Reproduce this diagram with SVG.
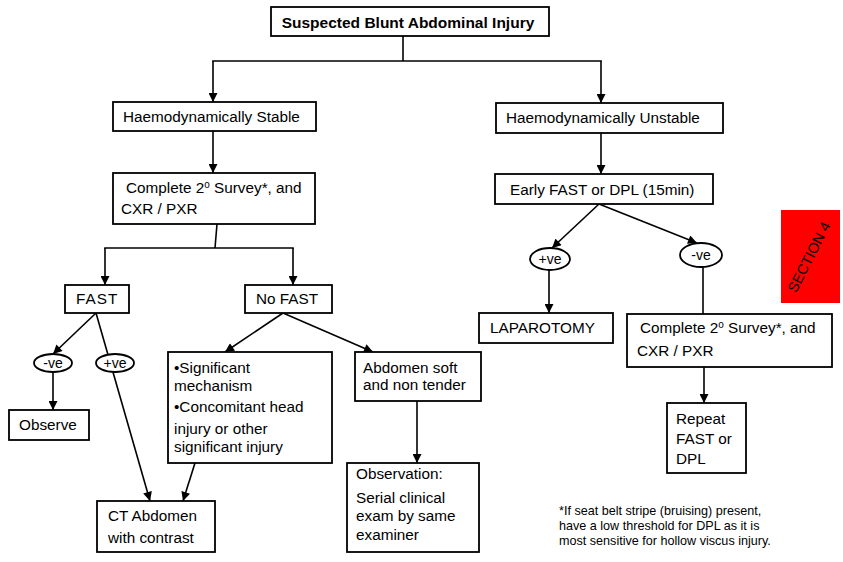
<svg xmlns="http://www.w3.org/2000/svg" width="843" height="562" viewBox="0 0 843 562">
<style>
.box{fill:#fff;stroke:#000;stroke-width:1.8}
.ell{fill:#fff;stroke:#000;stroke-width:1.8}
.ln{fill:none;stroke:#000;stroke-width:1.6}
.arr{fill:none;stroke:#000;stroke-width:1.6;marker-end:url(#ah)}
text{font-family:"Liberation Sans",Arial,sans-serif;font-size:15.3px;fill:#000}
.b{font-weight:bold;font-size:15.5px}
.e{font-size:14px}
.fn{font-size:12.6px}
.sec{font-size:14.5px}
</style>
<defs>
<marker id="ah" viewBox="0 0 10 10" markerUnits="userSpaceOnUse" markerWidth="10" markerHeight="9" refX="10" refY="5" orient="auto">
<path d="M0,0 L10,5 L0,10 z" fill="#000"/>
</marker>
</defs>
<g id="connectors">
<line class="ln" x1="403" y1="36" x2="403" y2="61"/>
<line class="ln" x1="212.2" y1="61" x2="601.8" y2="61"/>
<line class="arr" x1="213" y1="61" x2="213" y2="102"/>
<line class="arr" x1="601" y1="61" x2="601" y2="103"/>
<line class="arr" x1="213" y1="131" x2="213" y2="173"/>
<line class="ln" x1="217" y1="224" x2="215" y2="248"/>
<line class="ln" x1="104.2" y1="248" x2="293.8" y2="248"/>
<line class="arr" x1="105" y1="248" x2="105" y2="285"/>
<line class="arr" x1="293" y1="248" x2="293" y2="285"/>
<line class="arr" x1="96" y1="313" x2="53" y2="354"/>
<line class="arr" x1="96" y1="313" x2="150" y2="501"/>
<line class="arr" x1="53" y1="372" x2="53" y2="410"/>
<line class="arr" x1="283" y1="313" x2="225" y2="352"/>
<line class="arr" x1="283" y1="313" x2="373" y2="352"/>
<line class="arr" x1="195" y1="463" x2="183" y2="501"/>
<line class="arr" x1="417" y1="401" x2="417" y2="463"/>
<line class="arr" x1="601" y1="133" x2="601" y2="174"/>
<line class="arr" x1="599" y1="204" x2="552" y2="248"/>
<line class="arr" x1="599" y1="204" x2="697" y2="243"/>
<line class="arr" x1="549" y1="270" x2="549" y2="313"/>
<line class="ln" x1="703" y1="267" x2="703" y2="314"/>
<line class="arr" x1="704" y1="367" x2="704" y2="403"/>
</g>
<g id="n-top">
<rect class="box" x="271" y="7" width="278" height="29"/>
<text class="b" x="408" y="28" text-anchor="middle">Suspected Blunt Abdominal Injury</text>
</g>
<g id="n-stable">
<rect class="box" x="113" y="102" width="203" height="29"/>
<text x="123" y="122">Haemodynamically Stable</text>
</g>
<g id="n-unstable">
<rect class="box" x="496" y="103" width="227" height="30"/>
<text x="506" y="123">Haemodynamically Unstable</text>
</g>
<g id="n-survey1">
<rect class="box" x="113" y="173" width="202" height="51"/>
<text x="126" y="193">Complete 2<tspan font-size="10" dy="-5">o</tspan><tspan dy="5"> Survey*, and</tspan></text>
<text x="121" y="214">CXR / PXR</text>
</g>
<g id="n-fast">
<rect class="box" x="65" y="285" width="64" height="28"/>
<text x="76" y="304" letter-spacing="1">FAST</text>
</g>
<g id="n-nofast">
<rect class="box" x="245" y="285" width="87" height="28"/>
<text x="256" y="304">No FAST</text>
</g>
<g id="n-neg1">
<ellipse class="ell" cx="53" cy="363" rx="19" ry="9"/>
<text class="e" x="53" y="368" text-anchor="middle">-ve</text>
</g>
<g id="n-pos1">
<ellipse class="ell" cx="115" cy="363" rx="19" ry="9"/>
<text class="e" x="115" y="368" text-anchor="middle">+ve</text>
</g>
<g id="n-observe">
<rect class="box" x="9" y="410" width="80" height="30"/>
<text x="19" y="430">Observe</text>
</g>
<g id="n-significant">
<rect class="box" x="168" y="352" width="164" height="111"/>
<text x="174" y="373">•Significant</text>
<text x="174" y="391">mechanism</text>
<text x="174" y="412">•Concomitant head</text>
<text x="174" y="434">injury or other</text>
<text x="174" y="452">significant injury</text>
</g>
<g id="n-abdomen">
<rect class="box" x="355" y="352" width="126" height="49"/>
<text x="363" y="373">Abdomen soft</text>
<text x="363" y="390">and non tender</text>
</g>
<g id="n-ct">
<rect class="box" x="97" y="501" width="118" height="51"/>
<text x="108" y="521">CT Abdomen</text>
<text x="108" y="543">with contrast</text>
</g>
<g id="n-observation">
<rect class="box" x="347" y="463" width="132" height="89"/>
<text x="356" y="479">Observation:</text>
<text x="356" y="503">Serial clinical</text>
<text x="356" y="521">exam by same</text>
<text x="356" y="540">examiner</text>
</g>
<g id="n-early">
<rect class="box" x="495" y="174" width="218" height="30"/>
<text x="510" y="195">Early FAST or DPL (15min)</text>
</g>
<g id="n-pos2">
<ellipse class="ell" cx="550" cy="259" rx="20" ry="11"/>
<text class="e" x="550" y="264" text-anchor="middle">+ve</text>
</g>
<g id="n-neg2">
<ellipse class="ell" cx="701" cy="255" rx="21" ry="12"/>
<text class="e" x="701" y="260" text-anchor="middle">-ve</text>
</g>
<g id="n-laparotomy">
<rect class="box" x="479" y="313" width="134" height="30"/>
<text x="490" y="333">LAPAROTOMY</text>
</g>
<g id="n-survey2">
<rect class="box" x="627" y="314" width="205" height="53"/>
<text x="640" y="333">Complete 2<tspan font-size="10" dy="-5">o</tspan><tspan dy="5"> Survey*, and</tspan></text>
<text x="637" y="356">CXR / PXR</text>
</g>
<g id="n-repeat">
<rect class="box" x="667" y="403" width="79" height="70"/>
<text x="676" y="424">Repeat</text>
<text x="676" y="444">FAST or</text>
<text x="676" y="464">DPL</text>
</g>
<g id="section">
<rect x="781" y="210" width="59" height="93" fill="#ff0000"/>
<text class="sec" x="809" y="262" text-anchor="middle" transform="rotate(-63 809 257)">SECTION 4</text>
</g>
<g id="footnote">
<text class="fn" x="559" y="515">*If seat belt stripe (bruising) present,</text>
<text class="fn" x="559" y="530">have a low threshold for DPL as it is</text>
<text class="fn" x="559" y="545">most sensitive for hollow viscus injury.</text>
</g>
</svg>
